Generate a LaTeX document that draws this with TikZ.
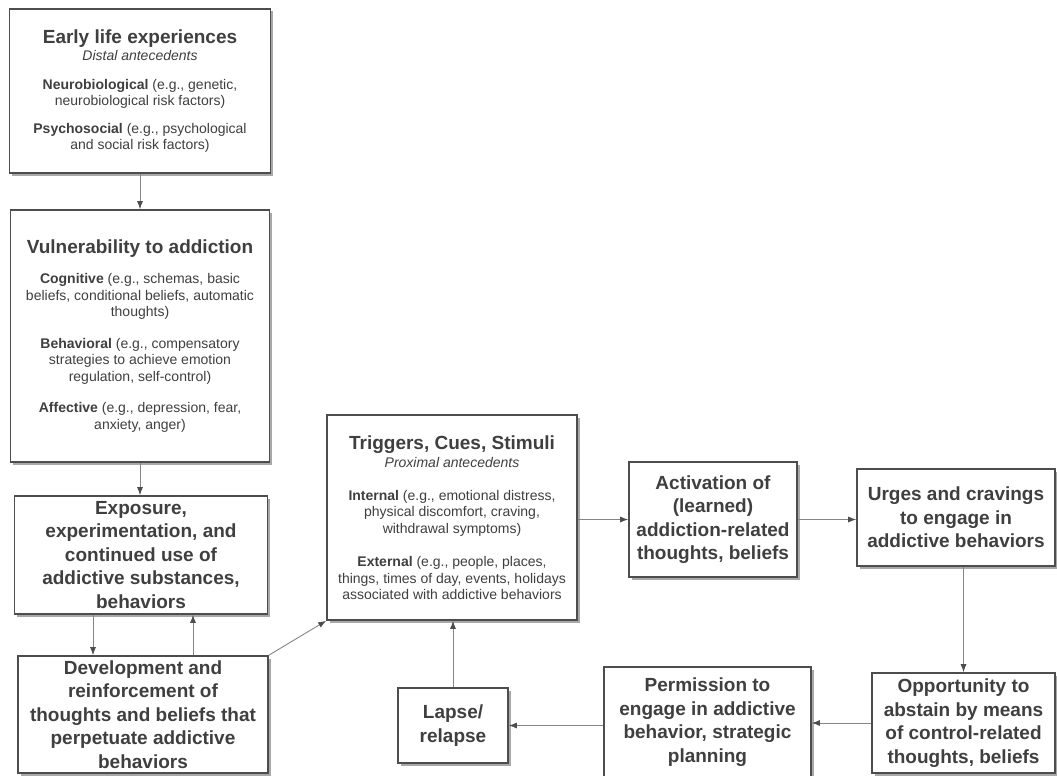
\documentclass[tikz,border=0pt]{standalone}
\usepackage{fontspec}
\setmainfont{Liberation Sans}
\usepackage{xcolor}
\usetikzlibrary{arrows.meta, positioning, shadows}

\definecolor{boxgray}{HTML}{4D4D4D}
\definecolor{shadowgray}{HTML}{A8A8A8}
\definecolor{textgray}{HTML}{3F3F3F}
\definecolor{linegray}{HTML}{858585}

\newcommand{\boxtitle}{\fontsize{19}{23.5}\selectfont\bfseries}

\begin{document}
\begin{tikzpicture}[
  x=1pt, y=-1pt,
  box/.style={draw=boxgray, line width=1.6pt, fill=white, align=center, inner sep=0pt,
    text=textgray, drop shadow={shadow xshift=2.5pt, shadow yshift=-2.5pt, fill=shadowgray, opacity=1}},
  big/.style={box, font=\boxtitle},
  sm/.style={box, font=\fontsize{14}{16.5}\selectfont},
  arr/.style={draw=linegray, line width=0.9pt, -{Latex[length=8pt, width=6pt, color=boxgray]}}
]
\useasboundingbox (0,0) rectangle (1057,776);

\node[sm, minimum width=261, minimum height=164] (early) at (140,91)
  {{\boxtitle Early life experiences}\\[1pt]
   \textit{Distal antecedents}\\[12pt]
   \textbf{Neurobiological} (e.g., genetic,\\ neurobiological risk factors)\\[11pt]
   \textbf{Psychosocial} (e.g., psychological\\ and social risk factors)};
\node[sm, minimum width=259, minimum height=252] (vuln) at (140,336)
  {{\boxtitle Vulnerability to addiction}\\[14pt]
   \textbf{Cognitive} (e.g., schemas, basic\\ beliefs, conditional beliefs, automatic\\ thoughts)\\[15pt]
   \textbf{Behavioral} (e.g., compensatory\\ strategies to achieve emotion\\ regulation, self-control)\\[15pt]
   \textbf{Affective} (e.g., depression, fear,\\ anxiety, anger)};
\node[big, minimum width=253, minimum height=118] (expo) at (141,555)
  {Exposure,\\ experimentation, and\\ continued use of\\ addictive substances,\\ behaviors};
\node[big, minimum width=250, minimum height=117] (devel) at (143,714.5)
  {Development and\\ reinforcement of\\ thoughts and beliefs that\\ perpetuate addictive\\ behaviors};
\node[sm, minimum width=250, minimum height=205] (trig) at (452,517.5)
  {{\boxtitle Triggers, Cues, Stimuli}\\[2pt]
   \textit{Proximal antecedents}\\[16pt]
   \textbf{Internal} (e.g., emotional distress,\\ physical discomfort, craving,\\ withdrawal symptoms)\\[17pt]
   \textbf{External} (e.g., people, places,\\ things, times of day, events, holidays\\ associated with addictive behaviors};
\node[big, minimum width=168, minimum height=115] (activ) at (713,519.5)
  {Activation of\\ (learned)\\ addiction-related\\ thoughts, beliefs};
\node[big, minimum width=198, minimum height=97] (urges) at (956,517.5)
  {Urges and cravings\\ to engage in\\ addictive behaviors};
\node[big, minimum width=183, minimum height=100] (oppor) at (963.5,723)
  {Opportunity to\\ abstain by means\\ of control-related\\ thoughts, beliefs};
\node[big, minimum width=207, minimum height=110] (perm) at (707.5,722)
  {Permission to\\ engage in addictive\\ behavior, strategic\\ planning};
\node[big, minimum width=110, minimum height=75] (lapse) at (453,725.5)
  {Lapse/\\ relapse};

\draw[arr] (early.south) -- (early.south |- vuln.north);
\draw[arr] (vuln.south) -- (vuln.south |- expo.north);
\draw[arr] ([xshift=-48pt]expo.south) -- ([xshift=-48pt]expo.south |- devel.north);
\draw[arr] ([xshift=52pt]expo.south |- devel.north) -- ([xshift=52pt]expo.south);
\draw[arr] (devel.north east) -- (trig.south west);
\draw[arr] (trig.east |- activ.west) -- (activ.west);
\draw[arr] (activ.east) -- (activ.east -| urges.west);
\draw[arr] (oppor.north |- urges.south) -- (oppor.north);
\draw[arr] (oppor.west) -- (oppor.west -| perm.east);
\draw[arr] (perm.west |- lapse.east) -- (lapse.east);
\draw[arr] (lapse.north) -- (lapse.north |- trig.south);
\end{tikzpicture}
\end{document}
